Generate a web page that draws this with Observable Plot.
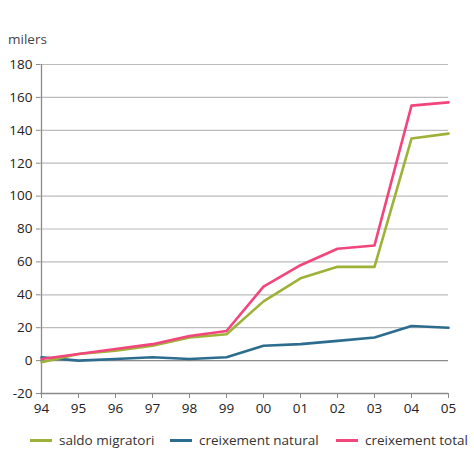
<!DOCTYPE html>
<html><head><meta charset="utf-8">
<script src="https://cdn.jsdelivr.net/npm/d3@7"></script>
<script src="https://cdn.jsdelivr.net/npm/@observablehq/plot@0.6"></script>
<style>
body{margin:0;background:#fff;font-family:"Open Sans",sans-serif;}
#title{height:52px;box-sizing:border-box;padding:31px 0 0 8px;font-size:13.5px;color:#444;line-height:16px;}
#legend{position:relative;height:30px;font-size:13.5px;color:#333;}
.item{position:absolute;top:9px;display:flex;align-items:center;white-space:nowrap;}
.sw{display:inline-block;width:22px;height:3px;margin-right:7px;}
</style></head><body>
<div id="title">milers</div>
<div id="chart"></div>
<div id="legend"></div>
<script>
const years = ["94","95","96","97","98","99","00","01","02","03","04","05"];
const saldoMigratori = [-1, 4, 6, 9, 14, 16, 36, 50, 57, 57, 135, 138];
const creixementNatural = [2, 0, 1, 2, 1, 2, 9, 10, 12, 14, 21, 20];
const creixementTotal = [1, 4, 7, 10, 15, 18, 45, 58, 68, 70, 155, 157];
const seriesNames = ["saldo migratori", "creixement natural", "creixement total"];
const seriesColors = ["#9db237", "#2c6d8f", "#f2457c"];
const yTicks = [-20, 0, 20, 40, 60, 80, 100, 120, 140, 160, 180];
const gridTicks = [20, 40, 60, 80, 100, 120, 140, 160, 180];

const allValues = [saldoMigratori, creixementNatural, creixementTotal];
const rows = [];
seriesNames.forEach((s, i) => years.forEach((y, j) => rows.push({series: s, year: y, value: allValues[i][j]})));
const order = ["creixement natural", "saldo migratori", "creixement total"];
rows.sort((a, b) => order.indexOf(a.series) - order.indexOf(b.series));

const chart = Plot.plot({
  width: 474,
  height: 370,
  marginTop: 12,
  marginBottom: 29,
  marginLeft: 40,
  marginRight: 26,
  style: {fontFamily: '"Open Sans", sans-serif', fontSize: "13.5px", color: "#222"},
  x: {type: "point", domain: years, padding: 0, label: null},
  y: {domain: [-20, 180], label: null},
  color: {domain: seriesNames, range: seriesColors},
  marks: [
    Plot.ruleY(gridTicks, {stroke: "#bcbcbc", strokeWidth: 1.2}),
    Plot.ruleY([0], {stroke: "#8a8a8a", strokeWidth: 1.3}),
    Plot.ruleY([-20], {stroke: "#8a8a8a", strokeWidth: 1.3}),
    Plot.ruleX([years[0]], {stroke: "#8a8a8a", strokeWidth: 1.3}),
    Plot.axisY({ticks: yTicks, tickSize: 4, tickPadding: 4, stroke: "#8a8a8a", fill: "#222", tickFormat: d => String(d)}),
    Plot.axisX({tickSize: 5, tickPadding: 5, stroke: "#8a8a8a", fill: "#222"}),
    Plot.line(rows, {x: "year", y: "value", z: "series", stroke: "series", strokeWidth: 2.6})
  ]
});
document.getElementById("chart").appendChild(chart);

const legendPos = [30, 170, 336];
const legend = document.getElementById("legend");
seriesNames.forEach((s, i) => {
  const d = document.createElement("div");
  d.className = "item";
  d.style.left = legendPos[i] + "px";
  d.innerHTML = `<span class="sw" style="background:${seriesColors[i]}"></span>${s}`;
  legend.appendChild(d);
});
</script>
</body></html>
